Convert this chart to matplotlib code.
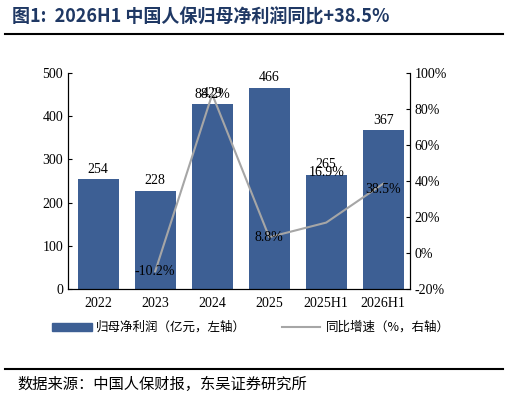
import matplotlib
matplotlib.use("Agg")
import matplotlib.pyplot as plt
from matplotlib.lines import Line2D
from matplotlib.patches import Rectangle

cats = ["2022", "2023", "2024", "2025", "2025H1", "2026H1"]
profit = [254, 228, 429, 466, 265, 367]
yoy = [None, -10.2, 88.2, 8.8, 16.9, 38.5]

serif = ["Liberation Serif", "Noto Sans CJK SC"]
cjk = ["Noto Sans CJK SC", "DejaVu Sans"]
W, H = 509, 403
fig = plt.figure(figsize=(W/100, H/100), dpi=100)
ax = fig.add_axes([68/W, 1-289/H, (410-68)/W, (289-73)/H])
bar_c = "#3d5f94"
x = list(range(len(cats)))
ax.bar(x, profit, width=0.72, color=bar_c, zorder=2)
ax.set_ylim(0, 500)
ax.set_xlim(-0.53, 5.47)
ax.set_yticks(range(0, 501, 100))
ax.set_xticks(x)
ax.set_xticklabels(cats, family=serif, fontsize=10)
for t in ax.get_yticklabels():
    t.set_family(serif); t.set_fontsize(10)
ax.spines["top"].set_visible(False)
for i, v in enumerate(profit):
    ax.text(i, v + 8, str(v), ha="center", va="bottom", family=serif, fontsize=10)
ax.tick_params(axis="x", length=0, pad=6)
ax.tick_params(axis="y", direction="in", length=3)

ax2 = ax.twinx()
ax2.set_ylim(-20, 100)
ax2.set_yticks(range(-20, 101, 20))
ax2.set_yticklabels([f"{v}%" for v in range(-20, 101, 20)], family=serif, fontsize=10)
ax2.tick_params(axis="y", direction="in", length=3)
ax2.spines["top"].set_visible(False)
xs = [i for i, v in enumerate(yoy) if v is not None]
ys = [v for v in yoy if v is not None]
ax2.plot(xs, ys, color="#a6a6a6", lw=1.5, zorder=3)
offs = {1: 0, 2: 0, 3: 0, 4: 28, 5: -3}
for i, v in zip(xs, ys):
    ax2.text(i, v + offs[i], f"{v}%", ha="center", va="center", family=serif, fontsize=10, zorder=4)

fig.text(12/W, 1-17/H, "图1:  2026H1 中国人保归母净利润同比+38.5%", family=cjk,
         fontsize=13, fontweight="bold", color="#1f3864", va="center")
fig.add_artist(Line2D([5/W, 503/W], [1-34/H, 1-34/H], color="black", lw=1.5))
fig.add_artist(Line2D([5/W, 503/W], [1-369/H, 1-369/H], color="black", lw=1.5))
fig.text(17/W, 1-384/H, "数据来源：中国人保财报，东吴证券研究所", family=cjk, fontsize=11, va="center")

fig.add_artist(Rectangle((52/W, 1-331/H), 40/W, 8/H, color=bar_c, transform=fig.transFigure))
fig.text(96/W, 1-327/H, "归母净利润（亿元，左轴）", family=cjk, fontsize=9, va="center")
fig.add_artist(Line2D([282/W, 320/W], [1-327/H, 1-327/H], color="#a6a6a6", lw=1.5))
fig.text(326/W, 1-327/H, "同比增速（%，右轴）", family=cjk, fontsize=9, va="center")

fig.savefig("out.png", dpi=100)
